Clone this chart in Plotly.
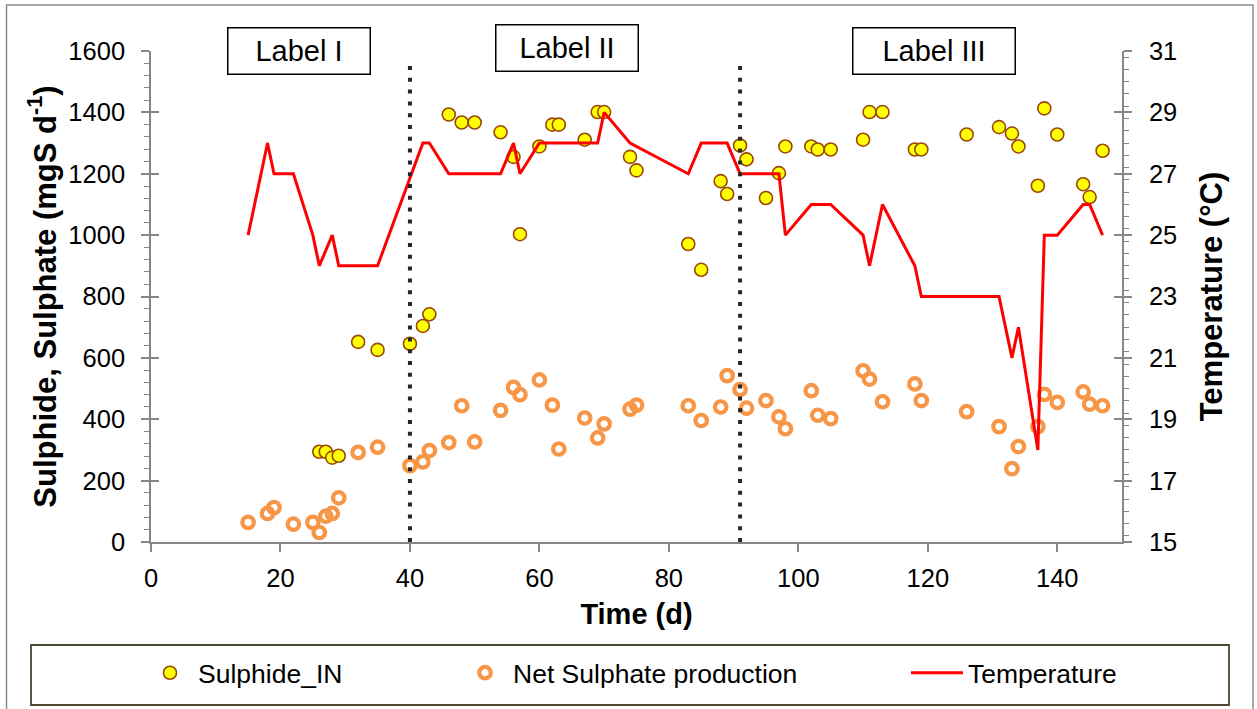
import plotly.graph_objects as go

# Sampling days and measured series
sulphide_day = [26, 27, 28, 29, 32, 35, 40, 42, 43, 46, 48, 50, 54, 56, 57, 60, 62, 63, 67, 69,
                70, 74, 75, 83, 85, 88, 89, 91, 92, 95, 97, 98, 102, 103, 105, 110, 111, 113,
                118, 119, 126, 131, 133, 134, 137, 138, 140, 144, 145, 147]
sulphide_in = [294, 294, 275, 281, 652, 626, 646, 704, 742, 1393, 1367, 1367, 1335, 1255, 1003,
               1289, 1360, 1360, 1311, 1401, 1401, 1255, 1211, 971, 887, 1176, 1134, 1292, 1247,
               1121, 1202, 1289, 1289, 1279, 1279, 1311, 1401, 1401, 1279, 1279, 1328, 1352,
               1331, 1289, 1161, 1413, 1328, 1166, 1124, 1275]

sulphate_day = [15, 18, 19, 22, 25, 26, 27, 28, 29, 32, 35, 40, 42, 43, 46, 48, 50, 54, 56, 57,
                60, 62, 63, 67, 69, 70, 74, 75, 83, 85, 88, 89, 91, 92, 95, 97, 98, 102, 103,
                105, 110, 111, 113, 118, 119, 126, 131, 133, 134, 137, 138, 140, 144, 145, 147]
net_sulphate = [64, 93, 112, 58, 64, 31, 84, 93, 144, 292, 309, 249, 261, 298, 324, 444, 326,
                429, 504, 480, 528, 446, 303, 404, 339, 385, 433, 446, 444, 396, 440, 542, 497,
                436, 461, 408, 369, 493, 413, 402, 558, 531, 457, 515, 461, 425, 376, 239, 311,
                376, 481, 455, 489, 449, 444]

temp_day = [15, 18, 19, 22, 25, 26, 28, 29, 35, 42, 43, 46, 54, 56, 57, 60, 69, 70, 74, 83, 85,
            89, 91, 97, 98, 102, 105, 110, 111, 113, 118, 119, 131, 133, 134, 137, 138, 140,
            144, 145, 147]
temperature = [25, 28, 27, 27, 25, 24, 25, 24, 24, 28, 28, 27, 27, 28, 27, 28, 28, 29, 28, 27,
               28, 28, 27, 27, 25, 26, 26, 25, 24, 26, 24, 23, 23, 21, 22, 18, 25, 25, 26, 26, 25]

# Phase boundaries (days) and phase labels
phase_bounds = [40, 91]
phase_labels = ["Label I", "Label II", "Label III"]
phase_label_x = [22.9, 64.3, 120.9]

x_ticks = [0, 20, 40, 60, 80, 100, 120, 140]
left_ticks = [0, 200, 400, 600, 800, 1000, 1200, 1400, 1600]
right_ticks = [15, 17, 19, 21, 23, 25, 27, 29, 31]

FONT = "Liberation Sans, Arial, sans-serif"
AXIS_GREY = "#868686"

# Plot-area geometry in pixels, used to place paper-referenced items
W, H = 1257, 709
L, R, T, B = 151, 135, 51, 167
PW, PH = W - L - R, H - T - B


def px(xp):
    return (xp - L) / PW


def py(yp):
    return (H - B - yp) / PH


fig = go.Figure()

fig.add_trace(go.Scatter(
    x=sulphide_day, y=sulphide_in, mode="markers", name="Sulphide_IN",
    marker=dict(symbol="circle", size=13, color="#FFFF00",
                line=dict(color="#984807", width=1.6)),
    legend="legend", yaxis="y", cliponaxis=False,
))
fig.add_trace(go.Scatter(
    x=sulphate_day, y=net_sulphate, mode="markers", name="Net Sulphate production",
    marker=dict(symbol="circle-open", size=11.5, color="#F79646",
                line=dict(color="#F79646", width=4.2)),
    legend="legend2", yaxis="y", cliponaxis=False,
))
fig.add_trace(go.Scatter(
    x=temp_day, y=temperature, mode="lines", name="Temperature",
    line=dict(color="#FF0000", width=3),
    legend="legend3", yaxis="y2",
))
# helper traces carrying the inner halves of the crossing major ticks
fig.add_trace(go.Scatter(x=[], y=[], yaxis="y3", showlegend=False, hoverinfo="skip"))
fig.add_trace(go.Scatter(x=[], y=[], yaxis="y4", showlegend=False, hoverinfo="skip"))

tick_font = dict(family=FONT, size=25.5, color="#000000")
xtitle_font = dict(family=FONT, size=29, color="#000000")
ytitle_font = dict(family=FONT, size=31, color="#000000")
legend_font = dict(family=FONT, size=26.5, color="#000000")

fig.update_layout(
    width=W, height=H,
    margin=dict(l=L, r=R, t=T, b=B, autoexpand=False),
    paper_bgcolor="#FFFFFF", plot_bgcolor="#FFFFFF",
    font=dict(family=FONT, color="#000000"),
    xaxis=dict(
        range=[0, 150], tickvals=x_ticks, showgrid=False, zeroline=False,
        showline=True, linecolor=AXIS_GREY, linewidth=1.6,
        ticks="outside", ticklen=8, tickwidth=1.6, tickcolor=AXIS_GREY,
        tickfont=tick_font, ticklabelstandoff=5,
        title=dict(text="<b>Time (d)</b>", font=xtitle_font, standoff=12),
        automargin=False,
    ),
    yaxis=dict(
        range=[0, 1600], tickvals=left_ticks, showgrid=False, zeroline=False,
        showline=True, linecolor=AXIS_GREY, linewidth=1.6,
        ticks="outside", ticklen=8, tickwidth=1.6, tickcolor=AXIS_GREY,
        minor=dict(dtick=40, ticks="outside", ticklen=5, tickwidth=1.4, tickcolor=AXIS_GREY),
        tickfont=tick_font, ticklabelstandoff=11,
        title=dict(text="<b>Sulphide, Sulphate (mgS d<sup>-1</sup>)</b>", font=ytitle_font,
                   standoff=3),
        automargin=False,
    ),
    yaxis2=dict(
        range=[15, 31], tickvals=right_ticks, overlaying="y", side="right",
        showgrid=False, zeroline=False,
        showline=True, linecolor=AXIS_GREY, linewidth=1.6,
        ticks="outside", ticklen=8, tickwidth=1.6, tickcolor=AXIS_GREY,
        minor=dict(dtick=0.4, ticks="outside", ticklen=5, tickwidth=1.4, tickcolor=AXIS_GREY),
        tickfont=tick_font, ticklabelstandoff=12,
        title=dict(text="<b>Temperature (°C)</b>", font=ytitle_font, standoff=24),
        automargin=False,
    ),
    yaxis3=dict(
        range=[0, 1600], tickvals=left_ticks, overlaying="y", side="left",
        showgrid=False, zeroline=False, showline=False, showticklabels=False,
        ticks="inside", ticklen=8, tickwidth=1.6, tickcolor=AXIS_GREY,
    ),
    yaxis4=dict(
        range=[15, 31], tickvals=right_ticks, overlaying="y", side="right",
        showgrid=False, zeroline=False, showline=False, showticklabels=False,
        ticks="inside", ticklen=8, tickwidth=1.6, tickcolor=AXIS_GREY,
    ),
    legend=dict(x=px(142), y=py(673), xanchor="left", yanchor="middle",
                orientation="h", bgcolor="rgba(0,0,0,0)", borderwidth=0,
                itemwidth=46, font=legend_font),
    legend2=dict(x=px(457), y=py(673), xanchor="left", yanchor="middle",
                 orientation="h", bgcolor="rgba(0,0,0,0)", borderwidth=0,
                 itemwidth=46, font=legend_font),
    legend3=dict(x=px(906), y=py(673), xanchor="left", yanchor="middle",
                 orientation="h", bgcolor="rgba(0,0,0,0)", borderwidth=0,
                 itemwidth=52, font=legend_font),
    showlegend=True,
)

shapes = []
# chart frame
shapes.append(dict(type="rect", xref="paper", yref="paper",
                   x0=px(6.5), x1=px(1253), y0=py(712), y1=py(5),
                   line=dict(color="#8C8C8C", width=1.5), layer="below"))
# legend frame
shapes.append(dict(type="rect", xref="paper", yref="paper",
                   x0=px(31), x1=px(1229), y0=py(705), y1=py(645),
                   line=dict(color="#4A4631", width=1.8), layer="below"))
# phase boundaries
for xb in phase_bounds:
    shapes.append(dict(type="line", xref="x", yref="y", x0=xb, x1=xb, y0=0, y1=1575,
                       line=dict(color="#262626", width=4, dash="4px,7.8px"), layer="above"))
fig.update_layout(shapes=shapes)

box_w = [141, 141, 161]
box_y = [py(50.5), py(48), py(50.5)]
for label, xc, bw, yc in zip(phase_labels, phase_label_x, box_w, box_y):
    fig.add_annotation(
        x=xc, y=yc, xref="x", yref="paper", xanchor="center", yanchor="middle",
        text=label, showarrow=False, width=bw, height=45, align="center",
        font=dict(family=FONT, size=29, color="#000000"),
        bgcolor="#FFFFFF", bordercolor="#000000", borderwidth=1.5, borderpad=0,
    )

fig.write_html("out.html")
